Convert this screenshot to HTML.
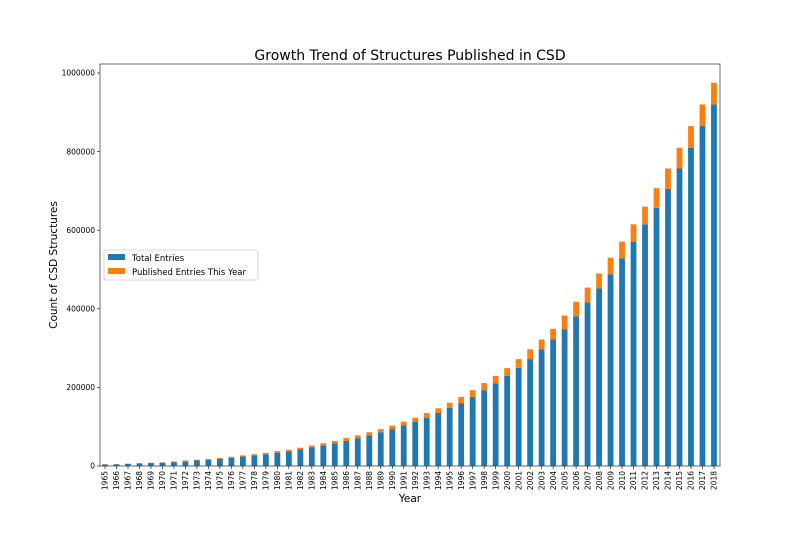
<!DOCTYPE html>
<html><head><meta charset="utf-8"><style>body{margin:0;background:#fff}svg{font-family:"DejaVu Sans","Liberation Sans",sans-serif}</style></head>
<body>
<svg id="s" width="800" height="533" xmlns="http://www.w3.org/2000/svg">
<rect width="800" height="533" fill="#fff"/>
<text x="410" y="60" font-size="14" text-anchor="middle">Growth Trend of Structures Published in CSD</text>
<g id="bars"></g>
<rect x="100" y="64" width="620" height="402" fill="none" stroke="#444" stroke-width="0.8"/>
<g id="ax" font-size="7.5"></g>
<text x="410" y="502" font-size="10.5" text-anchor="middle">Year</text>
<text transform="translate(57,265) rotate(-90)" font-size="10.5" text-anchor="middle">Count of CSD Structures</text>
<rect x="104" y="250" width="154" height="30" fill="#fff" stroke="#ccc" stroke-width="0.8" rx="2"/>
<rect x="108" y="254" width="17" height="6" fill="#1f77b4"/>
<text x="132" y="261" font-size="8.5">Total Entries</text>
<rect x="108" y="268" width="17" height="6" fill="#ff7f0e"/>
<text x="132" y="275" font-size="8.5">Published Entries This Year</text>
</svg>
<script>
var T=[4,4.5,5.5,6.5,7.5,8.5,10,12,14,16,18,21,24,27,30,34,37,42,47,52,58,64,70,78,86,94,103,112,123,135,148,160,176,193,210,229,250,272,297,322,348,381,416,452,488,528,570,615,657,705,757,810,865,920];
var P=[.5,.5,.6,.7,.8,.9,1.5,2,2,2,2.5,2.5,3,3,3.5,4,4,4.5,5,6,6,7,8,8,8,9,10,11,12,12,13,16,17,18,19,20,22,25,25,27,35,37,38,38,42,43,45,45,50,52,53,55,55,55];
var b='',a='';
function y(v){return 466-v*0.393;}
for(var i=0;i<54;i++){var x=105+i*11.49;
b+='<rect x="'+(x-2.9)+'" y="'+y(T[i])+'" width="5.8" height="'+(466-y(T[i]))+'" fill="#1f77b4"/>';
b+='<rect x="'+(x-2.9)+'" y="'+y(T[i]+P[i])+'" width="5.8" height="'+(P[i]*0.393)+'" fill="#ff7f0e"/>';
a+='<line x1="'+x+'" x2="'+x+'" y1="466" y2="469" stroke="#000" stroke-width="0.6"/>';
a+='<text transform="translate('+(x+2.7)+',471) rotate(-90)" text-anchor="end">'+(1965+i)+'</text>';}
for(var k=0;k<=5;k++){var yy=y(k*200);
a+='<line x1="97" x2="100" y1="'+yy+'" y2="'+yy+'" stroke="#000" stroke-width="0.6"/>';
a+='<text x="95" y="'+(yy+2.7)+'" text-anchor="end">'+(k*200000)+'</text>';}
document.getElementById('bars').innerHTML=b;document.getElementById('ax').innerHTML=a;
</script>
</body></html>
